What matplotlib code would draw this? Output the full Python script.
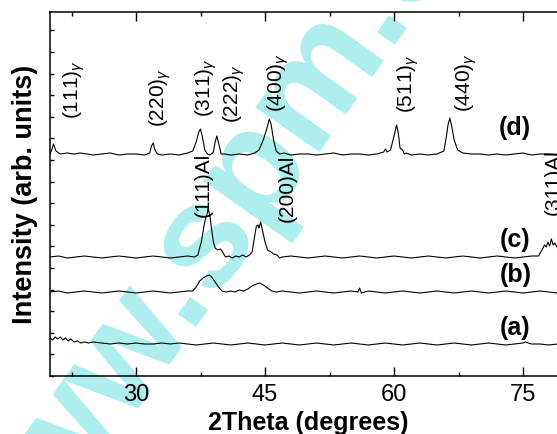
import matplotlib
matplotlib.use("Agg")
import matplotlib.pyplot as plt
import numpy as np
from matplotlib.font_manager import FontProperties
from matplotlib.patches import PathPatch
from matplotlib.textpath import TextPath
from matplotlib.transforms import Affine2D

plt.rcParams["font.family"] = ["Liberation Sans", "DejaVu Sans"]
plt.rcParams["mathtext.fontset"] = "custom"
plt.rcParams["mathtext.rm"] = "Liberation Sans"
plt.rcParams["mathtext.it"] = "Liberation Sans:italic"

# (2theta, intensity), arbitrary units
PATTERN_D = [
    (20.0, 222), (20.2, 226), (20.4, 232), (20.7, 225), (21.2, 222), (22.0, 223),
    (22.8, 222), (23.5, 223), (24.3, 222), (25.0, 221), (26.0, 222), (27.0, 223),
    (28.0, 221), (29.0, 222), (30.0, 222), (31.0, 221), (31.6, 223), (31.8, 230),
    (32.0, 233), (32.2, 226), (32.5, 222), (33.0, 221), (34.0, 222), (35.0, 221),
    (36.0, 223), (36.6, 225), (37.0, 234), (37.3, 244), (37.5, 247), (37.7, 240),
    (38.0, 226), (38.3, 222), (38.6, 221), (39.0, 224), (39.2, 234), (39.4, 240),
    (39.6, 233), (39.9, 222), (40.3, 222), (41.0, 221), (42.0, 222), (43.0, 221),
    (43.8, 223), (44.3, 226), (44.8, 236), (45.2, 247), (45.5, 257), (45.7, 252),
    (46.0, 236), (46.3, 225), (46.7, 222), (47.2, 223), (48.0, 221), (49.0, 222),
    (50.0, 222), (51.0, 221), (52.0, 222), (53.0, 223), (54.0, 221), (55.0, 222),
    (56.0, 222), (57.0, 221), (58.0, 222), (58.8, 224), (59.0, 227), (59.2, 224),
    (59.6, 226), (60.0, 240), (60.3, 251), (60.5, 243), (60.7, 228), (61.0, 226),
    (61.2, 222), (61.4, 223), (62.0, 221), (63.0, 222), (64.0, 221), (65.0, 222),
    (65.8, 225), (66.1, 240), (66.3, 252), (66.5, 258), (66.7, 250), (67.0, 236),
    (67.4, 226), (68.0, 223), (69.0, 222), (70.0, 222), (71.0, 221), (72.0, 222),
    (73.0, 221), (74.0, 222), (75.0, 223), (76.0, 221), (77.0, 222), (78.0, 222),
    (79.0, 221), (80.0, 222),
]
PATTERN_C = [
    (20.0, 119), (21.0, 120), (22.0, 118), (23.0, 119), (24.0, 120), (25.0, 119),
    (26.0, 118), (27.0, 119), (28.0, 120), (29.0, 119), (30.0, 118), (31.0, 119),
    (32.0, 120), (33.0, 119), (34.0, 118), (35.0, 119), (36.0, 120), (36.8, 119),
    (37.2, 121), (37.4, 128), (37.6, 134), (37.9, 150), (38.1, 158), (38.3, 163),
    (38.4, 168), (38.6, 160), (38.8, 146), (39.0, 134), (39.2, 128), (39.5, 126),
    (39.8, 127), (40.0, 125), (40.2, 122), (40.4, 119), (40.8, 120), (41.2, 118),
    (41.6, 120), (42.0, 119), (42.4, 121), (42.8, 119), (43.2, 121), (43.5, 124),
    (43.8, 140), (44.0, 150), (44.2, 151), (44.3, 148), (44.5, 154), (44.7, 146),
    (45.0, 134), (45.3, 126), (45.7, 124), (46.0, 122), (46.4, 121), (46.7, 118),
    (47.0, 119), (48.0, 120), (49.0, 119), (50.0, 118), (51.0, 119), (52.0, 120),
    (53.0, 119), (54.0, 118), (55.0, 119), (56.0, 120), (57.0, 119), (58.0, 118),
    (59.0, 119), (60.0, 120), (61.0, 119), (62.0, 118), (63.0, 119), (64.0, 120),
    (65.0, 119), (66.0, 118), (67.0, 119), (68.0, 120), (69.0, 119), (70.0, 118),
    (71.0, 119), (72.0, 120), (73.0, 119), (74.0, 118), (75.0, 119), (76.0, 120),
    (76.8, 120), (77.2, 126), (77.5, 131), (77.7, 129), (77.9, 134), (78.1, 130),
    (78.3, 137), (78.5, 131), (78.7, 133), (79.0, 128), (79.3, 129), (80.0, 126),
]
PATTERN_B = [
    (20.0, 84), (21.0, 85), (22.0, 83), (23.0, 84), (24.0, 85), (25.0, 84),
    (26.0, 83), (27.0, 84), (28.0, 85), (29.0, 84), (30.0, 83), (31.0, 84),
    (32.0, 85), (33.0, 84), (34.0, 83), (35.0, 84), (36.0, 85), (36.6, 85),
    (37.0, 89), (37.4, 95), (37.8, 98), (38.2, 100), (38.5, 101), (38.8, 99),
    (39.2, 94), (39.6, 89), (40.0, 85), (40.5, 84), (41.0, 85), (41.5, 84),
    (42.0, 86), (42.5, 85), (43.0, 87), (43.5, 90), (44.0, 92), (44.4, 93),
    (44.8, 91), (45.3, 88), (45.8, 85), (46.3, 84), (47.0, 85), (48.0, 84),
    (49.0, 83), (50.0, 84), (51.0, 85), (52.0, 84), (53.0, 83), (54.0, 84),
    (55.0, 85), (55.8, 84), (56.0, 88), (56.2, 83), (57.0, 85), (58.0, 84),
    (59.0, 83), (60.0, 84), (61.0, 85), (62.0, 84), (63.0, 83), (64.0, 84),
    (65.0, 85), (66.0, 84), (67.0, 83), (68.0, 84), (69.0, 85), (70.0, 84),
    (71.0, 83), (72.0, 84), (73.0, 85), (74.0, 84), (75.0, 83), (76.0, 84),
    (77.0, 85), (78.0, 84), (79.0, 83), (80.0, 84),
]
PATTERN_A = [
    (20.0, 38), (20.3, 36), (20.6, 39), (20.9, 37), (21.2, 39), (21.5, 36),
    (21.8, 38), (22.1, 35), (22.4, 37), (22.8, 34), (23.2, 35), (23.6, 33),
    (24.0, 34), (24.5, 33), (25.0, 34), (26.0, 33), (27.0, 32), (28.0, 33),
    (29.0, 32), (30.0, 33), (31.0, 32), (32.0, 32), (33.0, 33), (34.0, 32),
    (35.0, 33), (36.0, 32), (37.0, 31), (38.0, 32), (39.0, 33), (40.0, 32),
    (41.0, 31), (42.0, 32), (43.0, 33), (44.0, 32), (45.0, 31), (46.0, 32),
    (47.0, 33), (48.0, 32), (49.0, 31), (50.0, 32), (51.0, 33), (52.0, 32),
    (53.0, 31), (54.0, 32), (55.0, 33), (56.0, 32), (57.0, 31), (58.0, 32),
    (59.0, 33), (60.0, 32), (61.0, 31), (62.0, 32), (63.0, 33), (64.0, 32),
    (65.0, 31), (66.0, 32), (67.0, 33), (68.0, 32), (69.0, 31), (70.0, 32),
    (71.0, 33), (72.0, 32), (73.0, 31), (74.0, 32), (75.0, 33), (75.3, 34),
    (75.6, 33), (76.0, 32), (77.0, 32), (78.0, 31), (79.0, 32), (80.0, 32),
]

# peak labels: (text, 2theta, intensity at bottom of label)
PEAK_LABELS = [
    (r"(111)$_{\gamma}$", 22.8, 257),
    (r"(220)$_{\gamma}$", 32.8, 249),
    (r"(311)$_{\gamma}$", 38.2, 259),
    (r"(222)$_{\gamma}$", 41.4, 253),
    (r"(400)$_{\gamma}$", 46.5, 264),
    (r"(511)$_{\gamma}$", 61.6, 263),
    (r"(440)$_{\gamma}$", 68.4, 264),
    ("(111)Al", 37.8, 159),
    ("(200)Al", 47.6, 154),
    ("(311)Al", 78.5, 161),
]
PANEL_LABELS = [("(d)", 248), ("(c)", 136), ("(b)", 101), ("(a)", 48)]
X_TICKS = [30, 45, 60, 75]

WATERMARK = "www.spm.com.cn"
# pixel centres (from bottom-left) of the two visible dots of the watermark
DOT_1 = (193, 122)
DOT_2 = (392, 404)

W, H = 557, 434
fig = plt.figure(figsize=(W / 100, H / 100), dpi=100)
ax = fig.add_axes([50 / W, 58 / H, 516 / W, 364 / H])
ax.patch.set_alpha(0)

# cyan watermark behind the plot, fitted so its two dots land where they are in the picture
wm_prop = FontProperties(family="Liberation Sans", weight="bold")
wm_path = TextPath((0, 0), WATERMARK, size=100, prop=wm_prop)
ext_dot = TextPath((0, 0), ".", size=100, prop=wm_prop).get_extents()
ext_1 = TextPath((0, 0), "www.", size=100, prop=wm_prop).get_extents()
ext_2 = TextPath((0, 0), "www.spm.", size=100, prop=wm_prop).get_extents()
dot_y = (ext_dot.y0 + ext_dot.y1) / 2
c1 = np.array([ext_1.x1 - ext_dot.width / 2, dot_y])
c2 = np.array([ext_2.x1 - ext_dot.width / 2, dot_y])
p1, p2 = np.array(DOT_1, float), np.array(DOT_2, float)
scale = np.linalg.norm(p2 - p1) / np.linalg.norm(c2 - c1)
angle = np.arctan2(*(p2 - p1)[::-1]) - np.arctan2(*(c2 - c1)[::-1])
wm_tr = Affine2D().translate(-c1[0], -c1[1]).scale(scale).rotate(angle).translate(*p1)
fig.add_artist(PathPatch(wm_path, transform=wm_tr, fc="#AEEEEE", ec="none", zorder=-5))

for pat in (PATTERN_D, PATTERN_C, PATTERN_B, PATTERN_A):
    arr = np.array(pat, dtype=float)
    ax.plot(arr[:, 0], arr[:, 1], color="black", lw=0.8)

for txt, x, y in PEAK_LABELS:
    ax.text(x, y, txt, rotation=90, ha="center", va="bottom", fontsize=15)

for txt, y in PANEL_LABELS:
    ax.text(74.1, y, txt, ha="center", va="center", fontsize=18, fontweight="bold")

ax.set_xlim(20, 80)
ax.set_ylim(0, 364)
ax.set_xticks(X_TICKS)
ax.set_xticks([22.5, 37.5, 52.5, 67.5], minor=True)
ax.set_yticks(np.arange(0, 364, 21.6))
ax.set_yticklabels([])
ax.tick_params(axis="x", which="major", direction="in", length=6.5, width=1,
               top=True, labelsize=17, pad=6)
ax.tick_params(axis="x", which="minor", direction="in", length=3, width=1, top=True)
ax.tick_params(axis="y", which="major", direction="in", length=3, width=1)
for sp in ax.spines.values():
    sp.set_linewidth(1.1)

fig.text(308 / W, 1 - 423 / H, "2Theta (degrees)", ha="center", va="center",
         fontsize=18, fontweight="bold")
fig.text(25 / W, 1 - 194 / H, "Intensity (arb. units)", ha="center", va="center",
         rotation=90, fontsize=19.5, fontweight="bold")

fig.savefig("out.png", dpi=100)
